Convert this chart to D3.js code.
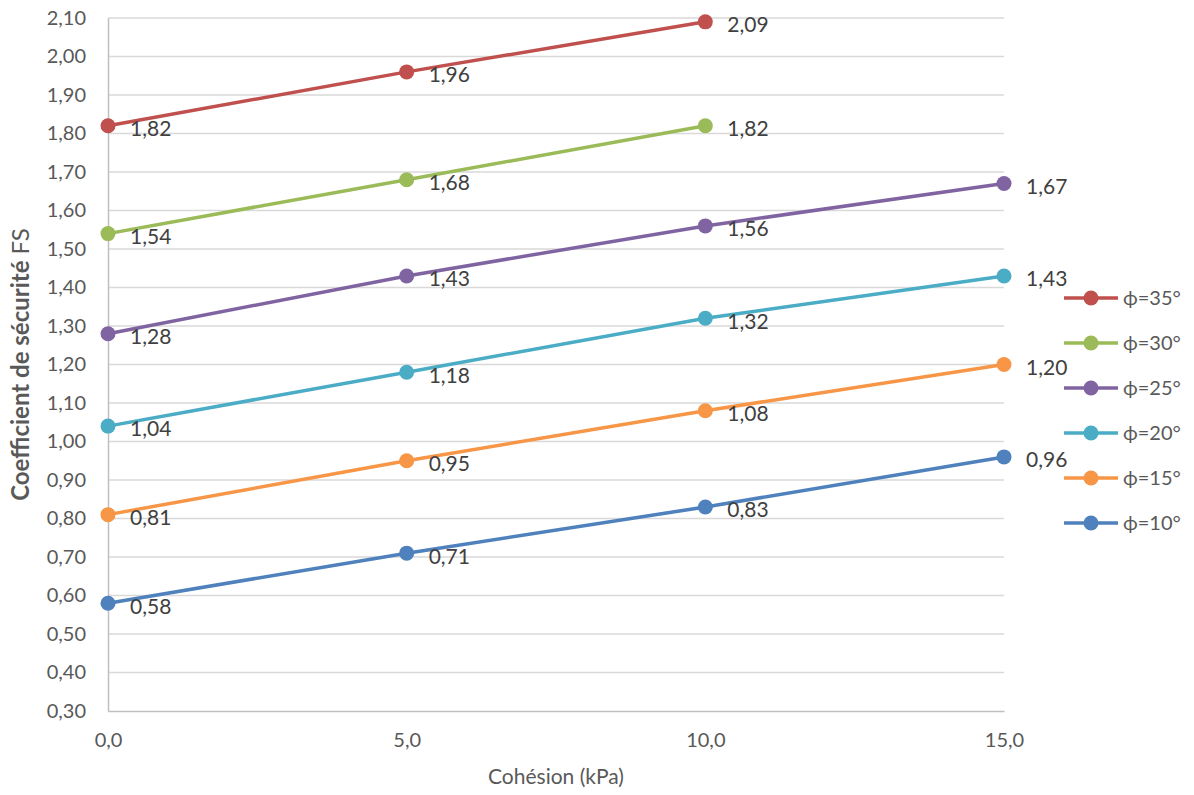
<!DOCTYPE html>
<html>
<head>
<meta charset="utf-8">
<style>
  body { margin: 0; background: #fff; }
  text { font-family: Lato, "Open Sans", sans-serif; }
</style>
</head>
<body>
<div id="chart"></div>
<script src="https://d3js.org/d3.v7.min.js"></script>
<script>
// données
const cohesion = [0, 5, 10, 15];
const seriesNames = ["ϕ=35°", "ϕ=30°", "ϕ=25°", "ϕ=20°", "ϕ=15°", "ϕ=10°"];
const phi35 = [1.82, 1.96, 2.09];
const phi30 = [1.54, 1.68, 1.82];
const phi25 = [1.28, 1.43, 1.56, 1.67];
const phi20 = [1.04, 1.18, 1.32, 1.43];
const phi15 = [0.81, 0.95, 1.08, 1.20];
const phi10 = [0.58, 0.71, 0.83, 0.96];
const yTicks = d3.range(0.3, 2.1001, 0.1).map(v => +v.toFixed(2));
const colors = ["#C0504D", "#9BBB59", "#8064A2", "#4BACC6", "#F79646", "#4F81BD"];

const allValues = [phi35, phi30, phi25, phi20, phi15, phi10];
const series = seriesNames.map((name, i) => ({
  name: name,
  color: colors[i],
  points: allValues[i].map((v, j) => ({ x: cohesion[j], y: v }))
}));

const width = 1194, height = 795;
const margin = { left: 108, right: 190, top: 18, bottom: 84 };

const svg = d3.select("#chart").append("svg")
  .attr("width", width)
  .attr("height", height);

const x = d3.scaleLinear().domain([0, 15]).range([margin.left, width - margin.right]);
const y = d3.scaleLinear().domain([0.3, 2.1]).range([height - margin.bottom, margin.top]);

const fmt2 = v => d3.format(".2f")(v).replace(".", ",");
const fmt1 = v => d3.format(".1f")(v).replace(".", ",");

// grille horizontale
svg.append("g")
  .selectAll("line")
  .data(yTicks.slice(1))
  .join("line")
  .attr("x1", x(0)).attr("x2", x(15))
  .attr("y1", d => y(d)).attr("y2", d => y(d))
  .attr("stroke", "#d9d9d9")
  .attr("stroke-width", 1.3);

// axes
const yAxis = svg.append("g")
  .attr("transform", `translate(${x(0)},0)`)
  .call(d3.axisLeft(y).tickValues(yTicks).tickFormat(fmt2).tickSize(0).tickPadding(22));
yAxis.select(".domain").attr("stroke", "#bfbfbf").attr("stroke-width", 1.5);
yAxis.selectAll("text").attr("font-size", 20).attr("fill", "#595959");

const xAxis = svg.append("g")
  .attr("transform", `translate(0,${y(0.3)})`)
  .call(d3.axisBottom(x).tickValues(cohesion).tickFormat(fmt1).tickSize(0).tickPadding(22));
xAxis.select(".domain").attr("stroke", "#bfbfbf").attr("stroke-width", 1.5);
xAxis.selectAll("text").attr("font-size", 20).attr("fill", "#595959");

// titres des axes
svg.append("text")
  .attr("x", x(7.5))
  .attr("y", 784)
  .attr("text-anchor", "middle")
  .attr("font-size", 21)
  .attr("fill", "#595959")
  .text("Cohésion (kPa)");

const yt = svg.append("text")
  .attr("transform", `translate(29,${(y(0.3) + y(2.1)) / 2}) rotate(-90)`)
  .attr("text-anchor", "middle")
  .attr("font-size", 24)
  .attr("fill", "#595959");
yt.append("tspan").attr("font-weight", "bold").text("Coefficient de sécurité");
yt.append("tspan").text(" FS");

// séries
const line = d3.line().x(d => x(d.x)).y(d => y(d.y));

const g = svg.append("g")
  .selectAll("g")
  .data(series)
  .join("g");

g.append("path")
  .attr("d", d => line(d.points))
  .attr("fill", "none")
  .attr("stroke", d => d.color)
  .attr("stroke-width", 3.5);

g.selectAll("circle")
  .data(d => d.points.map(p => ({ ...p, color: d.color })))
  .join("circle")
  .attr("cx", d => x(d.x))
  .attr("cy", d => y(d.y))
  .attr("r", 7.5)
  .attr("fill", d => d.color);

g.selectAll("text.lbl")
  .data(d => d.points)
  .join("text")
  .attr("class", "lbl")
  .attr("x", d => x(d.x) + 22)
  .attr("y", d => y(d.y) + 3)
  .attr("dy", "0.35em")
  .attr("font-size", 21)
  .attr("fill", "#404040")
  .text(d => fmt2(d.y));

// légende
const legend = svg.append("g")
  .selectAll("g")
  .data(series)
  .join("g")
  .attr("transform", (d, i) => `translate(1064,${298 + i * 45})`);

legend.append("line")
  .attr("x1", 0).attr("x2", 54)
  .attr("stroke", d => d.color)
  .attr("stroke-width", 3.5);
legend.append("circle")
  .attr("cx", 27)
  .attr("r", 7.5)
  .attr("fill", d => d.color);
legend.append("text")
  .attr("x", 59)
  .attr("dy", "0.35em")
  .attr("font-size", 20)
  .attr("fill", "#595959")
  .text(d => d.name);
</script>
</body>
</html>
